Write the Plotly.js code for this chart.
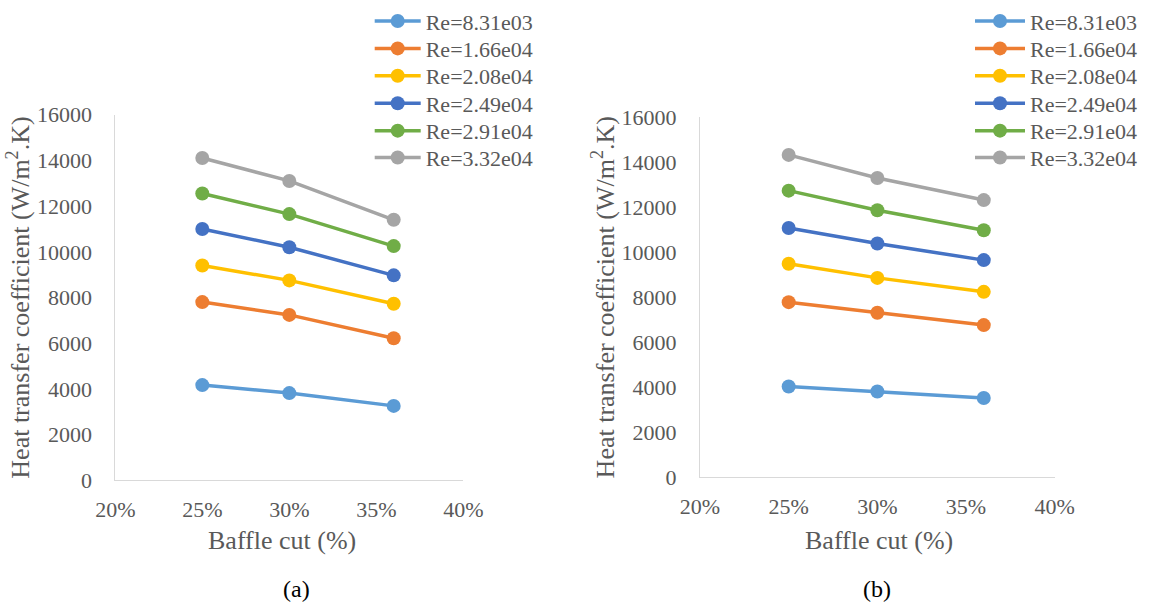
<!DOCTYPE html>
<html>
<head>
<meta charset="utf-8">
<script src="https://cdn.plot.ly/plotly-3.0.1.min.js"></script>
<style>html,body{margin:0;padding:0;background:#fff;}#chart{width:1150px;height:606px;}</style>
</head>
<body>
<div id="chart"></div>
<script>
// ---- data ----
var baffleCut = [0.25, 0.30, 0.36];
var seriesNames = ['Re=8.31e03', 'Re=1.66e04', 'Re=2.08e04', 'Re=2.49e04', 'Re=2.91e04', 'Re=3.32e04'];
var seriesColors = ['#5B9BD5', '#ED7D31', '#FFC000', '#4472C4', '#70AD47', '#A5A5A5'];

// panel (a)
var a_Re831e03 = [4170, 3820, 3260];
var a_Re166e04 = [7800, 7240, 6220];
var a_Re208e04 = [9400, 8750, 7730];
var a_Re249e04 = [11000, 10200, 8970];
var a_Re291e04 = [12550, 11650, 10250];
var a_Re332e04 = [14100, 13100, 11400];

// panel (b)
var b_Re831e03 = [4030, 3810, 3520];
var b_Re166e04 = [7780, 7310, 6760];
var b_Re208e04 = [9490, 8860, 8240];
var b_Re249e04 = [11080, 10390, 9650];
var b_Re291e04 = [12740, 11870, 10980];
var b_Re332e04 = [14330, 13300, 12320];

var xTickVals = [0.20, 0.25, 0.30, 0.35, 0.40];
var xTickText = ['20%', '25%', '30%', '35%', '40%'];
var yTickVals = [0, 2000, 4000, 6000, 8000, 10000, 12000, 14000, 16000];
var yTickText = ['0', '2000', '4000', '6000', '8000', '10000', '12000', '14000', '16000'];
var panelLabels = ['(a)', '(b)'];
var xTitle = 'Baffle cut (%)';
var yTitle = 'Heat transfer coefficient (W/m<sup>2</sup>.K)';

// ---- build ----
var W = 1150, H = 606;
var FONT = '"Liberation Serif", "Times New Roman", serif';
var GREY = '#595959';
var LEG_SIZE = 22;
var legendRowY = [19, 46.5, 74, 101.5, 129, 156];   // centre of each legend row (px from top)

var aSets = [a_Re831e03, a_Re166e04, a_Re208e04, a_Re249e04, a_Re291e04, a_Re332e04];
var bSets = [b_Re831e03, b_Re166e04, b_Re208e04, b_Re249e04, b_Re291e04, b_Re332e04];

function legendId(n) { return n === 1 ? 'legend' : 'legend' + n; }

var traces = [];
var layoutLegends = {};
function addPanel(sets, xa, ya, legOffset, legX, itemW) {
  sets.forEach(function (vals, i) {
    var lid = legendId(legOffset + i + 1);
    traces.push({
      type: 'scatter', mode: 'lines+markers',
      x: baffleCut, y: vals, name: seriesNames[i],
      xaxis: xa, yaxis: ya, legend: lid,
      line: {color: seriesColors[i], width: 3.5},
      marker: {color: seriesColors[i], size: 14},
      hoverinfo: 'x+y+name'
    });
    var topPx = legendRowY[i] - (5 + (LEG_SIZE * 1.3 + 3) / 2);
    layoutLegends[lid] = {
      x: legX / W, xanchor: 'left', y: 1 - topPx / H, yanchor: 'top',
      bgcolor: 'rgba(0,0,0,0)', borderwidth: 0, itemwidth: itemW,
      font: {family: FONT, size: LEG_SIZE, color: GREY}
    };
  });
}
addPanel(aSets, 'x', 'y', 0, 369.7, 46);
addPanel(bSets, 'x2', 'y2', 6, 970, 50);

function xAxis(domain, anchor) {
  return {
    domain: domain, anchor: anchor, range: [0.20, 0.40],
    tickmode: 'array', tickvals: xTickVals, ticktext: xTickText,
    showgrid: false, zeroline: false,
    showline: true, linecolor: '#d9d9d9', linewidth: 1,
    ticks: '', ticklabelstandoff: 9,
    tickfont: {family: FONT, size: 22, color: GREY}
  };
}
function yAxis(domain, anchor) {
  return {
    domain: domain, anchor: anchor, range: [0, 16000],
    tickmode: 'array', tickvals: yTickVals, ticktext: yTickText,
    showgrid: false, zeroline: false,
    showline: true, linecolor: '#d9d9d9', linewidth: 1,
    ticks: '', ticklabelstandoff: 18,
    tickfont: {family: FONT, size: 22, color: GREY},
    title: {text: yTitle, font: {family: FONT, size: 26, color: GREY}}
  };
}
function ann(text, xpx, ypx, size, color) {
  return {text: text, xref: 'paper', yref: 'paper', x: xpx / W, y: 1 - ypx / H,
          showarrow: false, xanchor: 'center', yanchor: 'middle',
          font: {family: FONT, size: size, color: color}};
}

var layout = {
  width: W, height: H,
  margin: {l: 0, r: 0, t: 0, b: 0},
  paper_bgcolor: '#ffffff', plot_bgcolor: '#ffffff',
  showlegend: true,
  xaxis: xAxis([115.3 / W, 463.3 / W], 'y'),
  yaxis: yAxis([1 - 480 / H, 1 - 113 / H], 'x'),
  xaxis2: xAxis([700 / W, 1054.7 / W], 'y2'),
  yaxis2: yAxis([1 - 476.7 / H, 1 - 115.7 / H], 'x2'),
  annotations: [
    ann(xTitle, 282, 540, 26, GREY),
    ann(xTitle, 879, 540, 26, GREY),
    ann(panelLabels[0], 296, 589, 24, '#000'),
    ann(panelLabels[1], 877, 589, 24, '#000')
  ]
};
Object.keys(layoutLegends).forEach(function (k) { layout[k] = layoutLegends[k]; });

Plotly.newPlot('chart', traces, layout, {displayModeBar: false});
</script>
</body>
</html>
